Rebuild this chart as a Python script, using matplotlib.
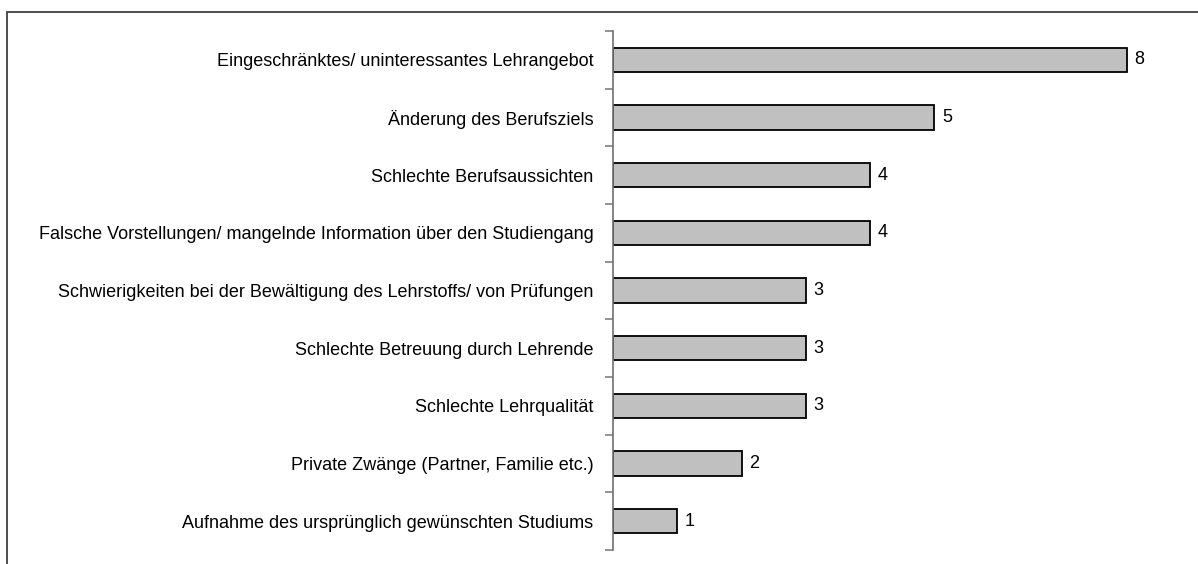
import matplotlib
matplotlib.use("Agg")
import matplotlib.pyplot as plt
from matplotlib.patches import Rectangle
from matplotlib.ticker import FixedLocator

categories = [
    "Eingeschränktes/ uninteressantes Lehrangebot",
    "Änderung des Berufsziels",
    "Schlechte Berufsaussichten",
    "Falsche Vorstellungen/ mangelnde Information über den Studiengang",
    "Schwierigkeiten bei der Bewältigung des Lehrstoffs/ von Prüfungen",
    "Schlechte Betreuung durch Lehrende",
    "Schlechte Lehrqualität",
    "Private Zwänge (Partner, Familie etc.)",
    "Aufnahme des ursprünglich gewünschten Studiums",
]
values = [8, 5, 4, 4, 3, 3, 3, 2, 1]

plt.rcParams['font.family'] = ['Liberation Sans', 'DejaVu Sans']

W, H = 1198, 564
fig = plt.figure(figsize=(W / 100, H / 100), dpi=100)

# outer frame
fig.patches.append(Rectangle((7 / W, -0.1), 1.2, (H - 12) / H + 0.1, transform=fig.transFigure,
                             fill=False, edgecolor='#404040', linewidth=1.3))

ax_left, ax_right = 613 / W, (613 + 9 * 64.25) / W
ax_top, ax_bot = (H - 31) / H, (H - 550) / H
ax = fig.add_axes([ax_left, ax_bot, ax_right - ax_left, ax_top - ax_bot])

FS = 13
y = list(range(len(categories)))
ax.barh(y, values, height=0.42, color='#C0C0C0', edgecolor='black', linewidth=1.3)
for yi, v in zip(y, values):
    ax.text(v + 0.12, yi, str(v), va='center', ha='left', fontsize=FS)

ax.set_ylim(len(categories) - 0.5, -0.5)
ax.set_xlim(0, 9)
ax.set_yticks(y)
ax.set_yticklabels(categories, fontsize=FS)
ax.tick_params(axis='y', which='major', length=0, pad=14)
ax.yaxis.set_minor_locator(FixedLocator([i - 0.5 for i in range(len(categories) + 1)]))
ax.tick_params(axis='y', which='minor', length=5.5, width=1.2, color='#808080', direction='out')
ax.set_xticks([])
for s in ['top', 'right', 'bottom']:
    ax.spines[s].set_visible(False)
ax.spines['left'].set_color('#707070')
ax.spines['left'].set_linewidth(1.2)

fig.savefig('out.png', dpi=100)
